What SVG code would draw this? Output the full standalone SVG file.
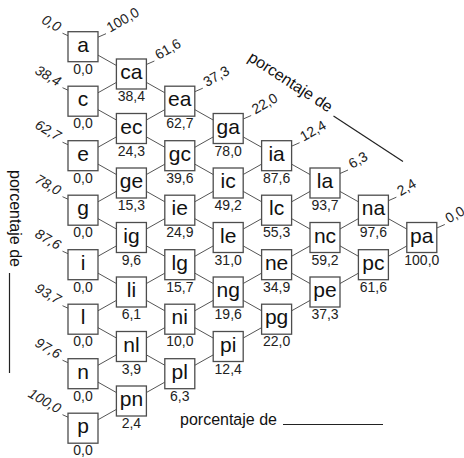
<svg xmlns="http://www.w3.org/2000/svg" width="464" height="458" viewBox="0 0 464 458">
<style>
.bg{fill:#fff}
.edge{stroke:#555;stroke-width:1;fill:none}
.tick{stroke:#555;stroke-width:1;fill:none}
.box{fill:#fff;stroke:#4d4d4d;stroke-width:1.3}
.lbl{font-family:"Liberation Sans",Arial,sans-serif;font-size:21px;fill:#111;text-anchor:middle}
.val{font-family:"Liberation Sans",Arial,sans-serif;font-size:14px;fill:#222;text-anchor:middle}
.rv{font-family:"Liberation Sans",Arial,sans-serif;font-size:14px;fill:#222;text-anchor:start}
.lv{font-family:"Liberation Sans",Arial,sans-serif;font-size:14px;fill:#222;text-anchor:end;font-style:italic}
.axis{font-family:"Liberation Sans",Arial,sans-serif;font-size:16px;fill:#111}
.axl{stroke:#222;stroke-width:1.2;fill:none}
</style>
<rect class="bg" x="0" y="0" width="464" height="458"/>
<g id="connectors">
<line class="edge" x1="83" y1="46.7" x2="421.8" y2="237.5"/>
<line class="edge" x1="83" y1="101.2" x2="373.4" y2="264.7"/>
<line class="edge" x1="83" y1="155.7" x2="325" y2="292"/>
<line class="edge" x1="83" y1="210.2" x2="276.6" y2="319.2"/>
<line class="edge" x1="83" y1="264.7" x2="228.2" y2="346.5"/>
<line class="edge" x1="83" y1="319.2" x2="179.8" y2="373.7"/>
<line class="edge" x1="83" y1="373.7" x2="131.4" y2="401"/>
<line class="edge" x1="83" y1="101.2" x2="131.4" y2="74"/>
<line class="edge" x1="83" y1="155.7" x2="179.8" y2="101.2"/>
<line class="edge" x1="83" y1="210.2" x2="228.2" y2="128.5"/>
<line class="edge" x1="83" y1="264.7" x2="276.6" y2="155.7"/>
<line class="edge" x1="83" y1="319.2" x2="325" y2="183"/>
<line class="edge" x1="83" y1="373.7" x2="373.4" y2="210.2"/>
<line class="edge" x1="83" y1="428.2" x2="421.8" y2="237.5"/>
</g>
<g id="ticks">
<line class="tick" x1="98" y1="37.2" x2="106" y2="33.7"/>
<line class="tick" x1="146.4" y1="64.5" x2="154.4" y2="61"/>
<line class="tick" x1="194.8" y1="91.7" x2="202.8" y2="88.2"/>
<line class="tick" x1="243.2" y1="119" x2="251.2" y2="115.5"/>
<line class="tick" x1="291.6" y1="146.2" x2="299.6" y2="142.7"/>
<line class="tick" x1="340" y1="173.5" x2="348" y2="170"/>
<line class="tick" x1="388.4" y1="200.7" x2="396.4" y2="197.2"/>
<line class="tick" x1="436.8" y1="228" x2="444.8" y2="224.5"/>
<line class="tick" x1="62.5" y1="33.2" x2="68" y2="35.7"/>
<line class="tick" x1="62.5" y1="87.7" x2="68" y2="90.2"/>
<line class="tick" x1="62.5" y1="142.2" x2="68" y2="144.7"/>
<line class="tick" x1="62.5" y1="196.7" x2="68" y2="199.2"/>
<line class="tick" x1="62.5" y1="251.2" x2="68" y2="253.7"/>
<line class="tick" x1="62.5" y1="305.7" x2="68" y2="308.2"/>
<line class="tick" x1="62.5" y1="360.2" x2="68" y2="362.7"/>
<line class="tick" x1="62.5" y1="414.7" x2="68" y2="417.2"/>
</g>
<g id="tick-labels-right">
<text class="rv" transform="translate(110,32.7) rotate(-30)">100,0</text>
<text class="rv" transform="translate(158.4,60) rotate(-30)">61,6</text>
<text class="rv" transform="translate(206.8,87.2) rotate(-30)">37,3</text>
<text class="rv" transform="translate(255.2,114.5) rotate(-30)">22,0</text>
<text class="rv" transform="translate(303.6,141.7) rotate(-30)">12,4</text>
<text class="rv" transform="translate(352,169) rotate(-30)">6,3</text>
<text class="rv" transform="translate(400.4,196.2) rotate(-30)">2,4</text>
<text class="rv" transform="translate(448.8,223.5) rotate(-30)">0,0</text>
</g>
<g id="tick-labels-left">
<text class="lv" transform="translate(57.5,32.2) rotate(30)">0,0</text>
<text class="lv" transform="translate(57.5,86.7) rotate(30)">38,4</text>
<text class="lv" transform="translate(57.5,141.2) rotate(30)">62,7</text>
<text class="lv" transform="translate(57.5,195.7) rotate(30)">78,0</text>
<text class="lv" transform="translate(57.5,250.2) rotate(30)">87,6</text>
<text class="lv" transform="translate(57.5,304.7) rotate(30)">93,7</text>
<text class="lv" transform="translate(57.5,359.2) rotate(30)">97,6</text>
<text class="lv" transform="translate(57.5,413.7) rotate(30)">100,0</text>
</g>
<g id="node-a" transform="translate(68,31.7)"><rect class="box" width="30" height="30"/><text class="lbl" x="15" y="20">a</text><text class="val" x="15" y="42">0,0</text></g>
<g id="node-c" transform="translate(68,86.2)"><rect class="box" width="30" height="30"/><text class="lbl" x="15" y="20">c</text><text class="val" x="15" y="42">0,0</text></g>
<g id="node-e" transform="translate(68,140.7)"><rect class="box" width="30" height="30"/><text class="lbl" x="15" y="20">e</text><text class="val" x="15" y="42">0,0</text></g>
<g id="node-g" transform="translate(68,195.2)"><rect class="box" width="30" height="30"/><text class="lbl" x="15" y="20">g</text><text class="val" x="15" y="42">0,0</text></g>
<g id="node-i" transform="translate(68,249.7)"><rect class="box" width="30" height="30"/><text class="lbl" x="15" y="20">i</text><text class="val" x="15" y="42">0,0</text></g>
<g id="node-l" transform="translate(68,304.2)"><rect class="box" width="30" height="30"/><text class="lbl" x="15" y="20">l</text><text class="val" x="15" y="42">0,0</text></g>
<g id="node-n" transform="translate(68,358.7)"><rect class="box" width="30" height="30"/><text class="lbl" x="15" y="20">n</text><text class="val" x="15" y="42">0,0</text></g>
<g id="node-p" transform="translate(68,413.2)"><rect class="box" width="30" height="30"/><text class="lbl" x="15" y="20">p</text><text class="val" x="15" y="42">0,0</text></g>
<g id="node-ca" transform="translate(116.4,59)"><rect class="box" width="30" height="30"/><text class="lbl" x="15" y="20">ca</text><text class="val" x="15" y="42">38,4</text></g>
<g id="node-ec" transform="translate(116.4,113.5)"><rect class="box" width="30" height="30"/><text class="lbl" x="15" y="20">ec</text><text class="val" x="15" y="42">24,3</text></g>
<g id="node-ge" transform="translate(116.4,168)"><rect class="box" width="30" height="30"/><text class="lbl" x="15" y="20">ge</text><text class="val" x="15" y="42">15,3</text></g>
<g id="node-ig" transform="translate(116.4,222.5)"><rect class="box" width="30" height="30"/><text class="lbl" x="15" y="20">ig</text><text class="val" x="15" y="42">9,6</text></g>
<g id="node-li" transform="translate(116.4,277)"><rect class="box" width="30" height="30"/><text class="lbl" x="15" y="20">li</text><text class="val" x="15" y="42">6,1</text></g>
<g id="node-nl" transform="translate(116.4,331.5)"><rect class="box" width="30" height="30"/><text class="lbl" x="15" y="20">nl</text><text class="val" x="15" y="42">3,9</text></g>
<g id="node-pn" transform="translate(116.4,386)"><rect class="box" width="30" height="30"/><text class="lbl" x="15" y="20">pn</text><text class="val" x="15" y="42">2,4</text></g>
<g id="node-ea" transform="translate(164.8,86.2)"><rect class="box" width="30" height="30"/><text class="lbl" x="15" y="20">ea</text><text class="val" x="15" y="42">62,7</text></g>
<g id="node-gc" transform="translate(164.8,140.7)"><rect class="box" width="30" height="30"/><text class="lbl" x="15" y="20">gc</text><text class="val" x="15" y="42">39,6</text></g>
<g id="node-ie" transform="translate(164.8,195.2)"><rect class="box" width="30" height="30"/><text class="lbl" x="15" y="20">ie</text><text class="val" x="15" y="42">24,9</text></g>
<g id="node-lg" transform="translate(164.8,249.7)"><rect class="box" width="30" height="30"/><text class="lbl" x="15" y="20">lg</text><text class="val" x="15" y="42">15,7</text></g>
<g id="node-ni" transform="translate(164.8,304.2)"><rect class="box" width="30" height="30"/><text class="lbl" x="15" y="20">ni</text><text class="val" x="15" y="42">10,0</text></g>
<g id="node-pl" transform="translate(164.8,358.7)"><rect class="box" width="30" height="30"/><text class="lbl" x="15" y="20">pl</text><text class="val" x="15" y="42">6,3</text></g>
<g id="node-ga" transform="translate(213.2,113.5)"><rect class="box" width="30" height="30"/><text class="lbl" x="15" y="20">ga</text><text class="val" x="15" y="42">78,0</text></g>
<g id="node-ic" transform="translate(213.2,168)"><rect class="box" width="30" height="30"/><text class="lbl" x="15" y="20">ic</text><text class="val" x="15" y="42">49,2</text></g>
<g id="node-le" transform="translate(213.2,222.5)"><rect class="box" width="30" height="30"/><text class="lbl" x="15" y="20">le</text><text class="val" x="15" y="42">31,0</text></g>
<g id="node-ng" transform="translate(213.2,277)"><rect class="box" width="30" height="30"/><text class="lbl" x="15" y="20">ng</text><text class="val" x="15" y="42">19,6</text></g>
<g id="node-pi" transform="translate(213.2,331.5)"><rect class="box" width="30" height="30"/><text class="lbl" x="15" y="20">pi</text><text class="val" x="15" y="42">12,4</text></g>
<g id="node-ia" transform="translate(261.6,140.7)"><rect class="box" width="30" height="30"/><text class="lbl" x="15" y="20">ia</text><text class="val" x="15" y="42">87,6</text></g>
<g id="node-lc" transform="translate(261.6,195.2)"><rect class="box" width="30" height="30"/><text class="lbl" x="15" y="20">lc</text><text class="val" x="15" y="42">55,3</text></g>
<g id="node-ne" transform="translate(261.6,249.7)"><rect class="box" width="30" height="30"/><text class="lbl" x="15" y="20">ne</text><text class="val" x="15" y="42">34,9</text></g>
<g id="node-pg" transform="translate(261.6,304.2)"><rect class="box" width="30" height="30"/><text class="lbl" x="15" y="20">pg</text><text class="val" x="15" y="42">22,0</text></g>
<g id="node-la" transform="translate(310,168)"><rect class="box" width="30" height="30"/><text class="lbl" x="15" y="20">la</text><text class="val" x="15" y="42">93,7</text></g>
<g id="node-nc" transform="translate(310,222.5)"><rect class="box" width="30" height="30"/><text class="lbl" x="15" y="20">nc</text><text class="val" x="15" y="42">59,2</text></g>
<g id="node-pe" transform="translate(310,277)"><rect class="box" width="30" height="30"/><text class="lbl" x="15" y="20">pe</text><text class="val" x="15" y="42">37,3</text></g>
<g id="node-na" transform="translate(358.4,195.2)"><rect class="box" width="30" height="30"/><text class="lbl" x="15" y="20">na</text><text class="val" x="15" y="42">97,6</text></g>
<g id="node-pc" transform="translate(358.4,249.7)"><rect class="box" width="30" height="30"/><text class="lbl" x="15" y="20">pc</text><text class="val" x="15" y="42">61,6</text></g>
<g id="node-pa" transform="translate(406.8,222.5)"><rect class="box" width="30" height="30"/><text class="lbl" x="15" y="20">pa</text><text class="val" x="15" y="42">100,0</text></g>
<g id="axis-top">
<text class="axis" transform="translate(247,60) rotate(33)">porcentaje de</text>
<line class="axl" x1="333.5" y1="116" x2="403" y2="161.5"/>
</g>
<g id="axis-left">
<text class="axis" transform="translate(10,170) rotate(90)">porcentaje de</text>
<line class="axl" x1="9.5" y1="273" x2="9.5" y2="373"/>
</g>
<g id="axis-bottom">
<text class="axis" x="180" y="425">porcentaje de</text>
<line class="axl" x1="283" y1="424.5" x2="383" y2="424.5"/>
</g>
</svg>
